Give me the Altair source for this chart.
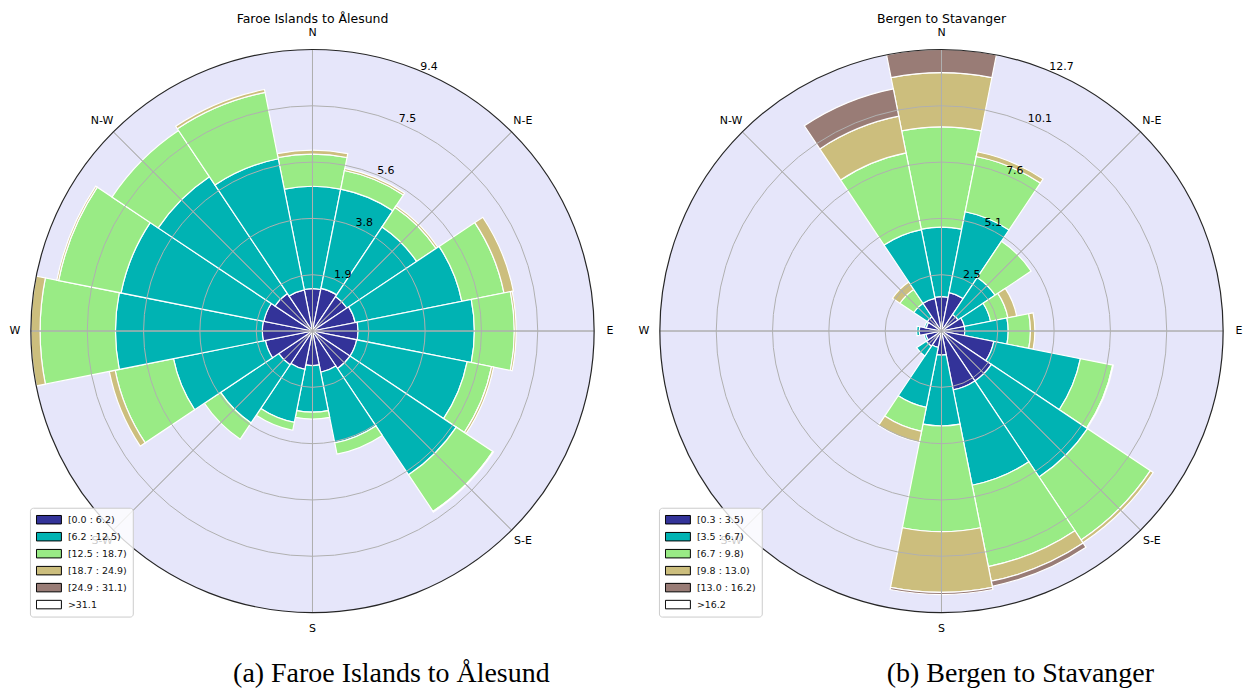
import math

import altair as alt
import pandas as pd

# 16 compass sectors, clockwise from north
DIRS = ["N", "NNE", "NE", "ENE", "E", "ESE", "SE", "SSE",
        "S", "SSW", "SW", "WSW", "W", "WNW", "NW", "NNW"]
COMPASS = ["N", "N-E", "E", "S-E", "S", "S-W", "W", "N-W"]
COLORS = ["#333399", "#00b3b3", "#99eb85", "#ccbe7d", "#997c76", "#ffffff"]

# Faroe Islands -> Ålesund : frequency (%) per sector for each wind-speed bin
faroe_bins = ["[0.0 : 6.2)", "[6.2 : 12.5)", "[12.5 : 18.7)",
              "[18.7 : 24.9)", "[24.9 : 31.1)", ">31.1"]
faroe_b1 = [1.41, 1.45, 1.38, 1.45, 1.52, 1.50, 1.50, 1.40, 1.15, 1.30, 1.35, 1.60, 1.67, 1.65, 1.50, 1.40]
faroe_b2 = [3.41, 3.37, 2.79, 3.62, 3.87, 3.75, 4.26, 2.40, 1.55, 1.80, 2.33, 3.12, 4.89, 4.85, 4.68, 4.45]
faroe_b3 = [1.07, 0.63, 0.78, 1.43, 1.33, 0.83, 1.46, 0.38, 0.23, 0.27, 0.65, 1.98, 2.51, 2.12, 1.85, 2.25]
faroe_b4 = [0.13, 0.07, 0.07, 0.32, 0.06, 0.07, 0.03, 0.00, 0.00, 0.00, 0.00, 0.20, 0.305, 0.06, 0.00, 0.10]
faroe_b5 = [0.0, 0.0, 0.0, 0.0, 0.0, 0.0, 0.0, 0.0, 0.0, 0.0, 0.0, 0.0, 0.0, 0.0, 0.0, 0.0]
faroe_b6 = [0.0, 0.0, 0.0, 0.0, 0.0, 0.0, 0.0, 0.0, 0.0, 0.0, 0.0, 0.0, 0.0, 0.0, 0.0, 0.0]
faroe_ticks = ["1.9", "3.8", "5.6", "7.5", "9.4"]

# Bergen -> Stavanger
bergen_bins = ["[0.3 : 3.5)", "[3.5 : 6.7)", "[6.7 : 9.8)",
               "[9.8 : 13.0)", "[13.0 : 16.2)", ">16.2"]
bergen_b1 = [1.55, 1.76, 0.90, 1.05, 1.05, 2.40, 2.70, 2.70, 1.08, 0.75, 0.82, 0.72, 1.00, 0.70, 0.77, 1.50]
bergen_b2 = [3.12, 3.71, 2.00, 1.20, 1.95, 3.97, 5.20, 4.37, 3.19, 2.75, 0.53, 0.08, 0.12, 0.08, 0.73, 3.15]
bergen_b3 = [4.51, 2.53, 1.95, 0.80, 1.00, 1.48, 3.40, 3.73, 4.75, 1.10, 0.00, 0.00, 0.00, 0.00, 0.75, 3.52]
bergen_b4 = [2.44, 0.22, 0.00, 0.40, 0.20, 0.03, 0.15, 0.67, 2.73, 0.50, 0.00, 0.00, 0.00, 0.00, 0.40, 1.68]
bergen_b5 = [1.04, 0.00, 0.00, 0.00, 0.00, 0.00, 0.00, 0.23, 0.10, 0.00, 0.00, 0.00, 0.00, 0.00, 0.00, 1.25]
bergen_b6 = [0.0, 0.0, 0.0, 0.0, 0.0, 0.0, 0.0, 0.0, 0.0, 0.0, 0.0, 0.0, 0.0, 0.0, 0.0, 0.0]
bergen_ticks = ["2.5", "5.1", "7.6", "10.1", "12.7"]

FONT = "DejaVu Sans"
R_PX = 282          # pixel radius of the polar axes
CY = 331            # vertical centre of both roses
GRID = "#b0b0b0"


def rose(title, caption, bins, series, ticks, cx, cap_x, legend_x):
    rows = []
    for k, d in enumerate(DIRS):
        base = 0.0
        for label, s in zip(bins, series):
            v = s[k]
            if v > 0:
                rows.append({"dir": d, "th0": 22.5 * k - 11.25, "th1": 22.5 * k + 11.25,
                             "r0": base, "r1": base + v, "bin": label})
                base += v
    bars_df = pd.DataFrame(rows)
    rmax = max(sum(s[k] for s in series) for k in range(len(DIRS)))

    th_scale = alt.Scale(domain=[0, 360], range=[0, 2 * math.pi], nice=False)
    r_scale = alt.Scale(type="linear", domain=[0, rmax], range=[0, R_PX], nice=False)
    cxv, cyv = alt.value(cx), alt.value(CY)

    disc_df = pd.DataFrame({"th0": [0], "th1": [360], "r": [rmax]})
    disc = alt.Chart(disc_df).mark_arc(color="#e6e6fa").encode(
        theta=alt.Theta("th0:Q", scale=th_scale, stack=None),
        theta2="th1:Q",
        radius=alt.Radius("r:Q", scale=r_scale, stack=None),
        x=cxv, y=cyv,
    )

    bars = alt.Chart(bars_df).mark_arc(stroke="white", strokeWidth=1.2).encode(
        theta=alt.Theta("th0:Q", scale=th_scale, stack=None),
        theta2="th1:Q",
        radius=alt.Radius("r1:Q", scale=r_scale, stack=None),
        radius2="r0:Q",
        color=alt.Color(
            "bin:N",
            scale=alt.Scale(domain=bins, range=COLORS),
            legend=alt.Legend(
                title=None, orient="none", legendX=legend_x, legendY=508,
                fillColor="rgba(255,255,255,0.8)", strokeColor="#cccccc",
                cornerRadius=3, padding=6,
                symbolType="M-1,-0.34H1V0.34H-1Z", symbolSize=625,
                symbolStrokeColor="black", symbolStrokeWidth=1, symbolOpacity=1,
                labelFont=FONT, labelFontSize=9.5, labelColor="#111111",
                labelOffset=6, clipHeight=12, rowPadding=5,
            ),
        ),
        x=cxv, y=cyv,
    )

    grid_df = pd.DataFrame({"th0": [0] * 4, "th1": [360] * 4,
                            "r": [rmax * i / 5 for i in range(1, 5)]})
    rings = alt.Chart(grid_df).mark_arc(filled=False, stroke=GRID, strokeWidth=1).encode(
        theta=alt.Theta("th0:Q", scale=th_scale, stack=None),
        theta2="th1:Q",
        radius=alt.Radius("r:Q", scale=r_scale, stack=None),
        x=cxv, y=cyv,
    )

    spoke_df = pd.DataFrame({"a": [45 * i for i in range(8)], "r": [rmax] * 8})
    spokes = alt.Chart(spoke_df).mark_arc(filled=False, stroke=GRID, strokeWidth=1).encode(
        theta=alt.Theta("a:Q", scale=th_scale, stack=None),
        theta2="a:Q",
        radius=alt.Radius("r:Q", scale=r_scale, stack=None),
        x=cxv, y=cyv,
    )

    rim = alt.Chart(disc_df).mark_arc(filled=False, stroke="#262626", strokeWidth=1.2).encode(
        theta=alt.Theta("th0:Q", scale=th_scale, stack=None),
        theta2="th1:Q",
        radius=alt.Radius("r:Q", scale=r_scale, stack=None),
        x=cxv, y=cyv,
    )

    comp_df = pd.DataFrame({"a": [45 * i for i in range(8)], "t": COMPASS})
    compass = alt.Chart(comp_df).mark_text(font=FONT, fontSize=11, color="black",
                                           align="center", baseline="middle").encode(
        theta=alt.Theta("a:Q", scale=th_scale, stack=None),
        radius=alt.value(R_PX + 16),
        text="t:N",
        x=cxv, y=cyv,
    )

    tick_df = pd.DataFrame({"a": [22.5] * 5, "r": [rmax * i / 5 for i in range(1, 6)], "t": ticks})
    tick_text = alt.Chart(tick_df).mark_text(font=FONT, fontSize=11, color="black",
                                             align="left", baseline="bottom", dy=1).encode(
        theta=alt.Theta("a:Q", scale=th_scale, stack=None),
        radius=alt.Radius("r:Q", scale=r_scale, stack=None),
        text="t:N",
        x=cxv, y=cyv,
    )

    head = alt.Chart(pd.DataFrame({"t": [title]})).mark_text(
        font=FONT, fontSize=12.5, color="black", baseline="middle").encode(
        text="t:N", x=cxv, y=alt.value(18))

    cap = alt.Chart(pd.DataFrame({"t": [caption]})).mark_text(
        font="Liberation Serif", fontSize=28, color="black", baseline="middle").encode(
        text="t:N", x=alt.value(cap_x), y=alt.value(675))

    return alt.layer(disc, bars, rings, spokes, rim, compass, tick_text, head, cap)


left = rose("Faroe Islands to Ålesund", "(a) Faroe Islands to Ålesund", faroe_bins,
            [faroe_b1, faroe_b2, faroe_b3, faroe_b4, faroe_b5, faroe_b6], faroe_ticks,
            cx=313, cap_x=392, legend_x=30).properties(width=621, height=693)
right = rose("Bergen to Stavanger", "(b) Bergen to Stavanger", bergen_bins,
             [bergen_b1, bergen_b2, bergen_b3, bergen_b4, bergen_b5, bergen_b6], bergen_ticks,
             cx=322, cap_x=401, legend_x=39).properties(width=622, height=693)

chart = (
    alt.hconcat(left, right, spacing=0)
    .resolve_scale(theta="independent", radius="independent", color="independent")
    .properties(padding=0, bounds="flush")
    .configure(font=FONT)
    .configure_view(strokeWidth=0, stroke="transparent")
)

chart.save("out.html", embed_options={"renderer": "svg", "actions": False})
